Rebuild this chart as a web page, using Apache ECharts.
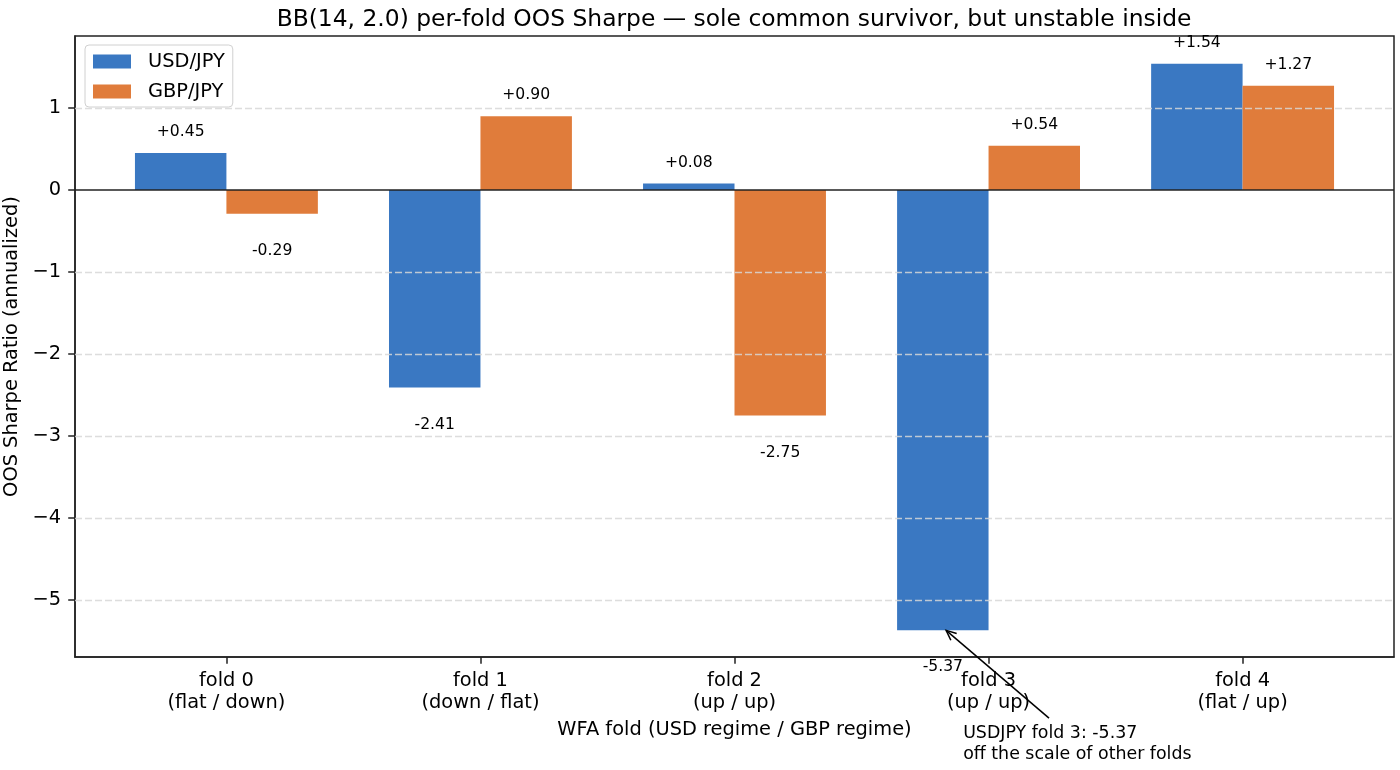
<!DOCTYPE html>
<html><head><meta charset="utf-8">
<script src="https://cdn.jsdelivr.net/npm/echarts@6/dist/echarts.min.js"></script>
<style>html,body{margin:0;padding:0;background:#fff}#c{width:1400px;height:770px}</style>
</head><body><div id="c"></div>
<script>
const categories = ['fold 0\n(flat / down)', 'fold 1\n(down / flat)', 'fold 2\n(up / up)', 'fold 3\n(up / up)', 'fold 4\n(flat / up)'];
const seriesNames = ['USD/JPY', 'GBP/JPY'];
const usdValues = [0.45, -2.41, 0.08, -5.37, 1.54];
const gbpValues = [-0.29, 0.90, -2.75, 0.54, 1.27];
const yTicks = [-5, -4, -3, -2, -1, 0, 1];
const xTicks = [0, 1, 2, 3, 4];
const xMin = -0.596, xMax = 4.596;
const yMin = -5.695, yMax = 1.878;
const titleText = 'BB(14, 2.0) per-fold OOS Sharpe \u2014 sole common survivor, but unstable inside';
const xName = 'WFA fold (USD regime / GBP regime)';
const yName = 'OOS Sharpe Ratio (annualized)';
const annotationLines = 'USDJPY fold 3: -5.37\noff the scale of other folds';
const annotationTip = [2.833, -5.37];
const annotationTail = [3.238, -6.44];
const annotationTextAt = [2.90, -6.50];

const FONT = 'DejaVu Sans';
const colors = ['#3a78c2', '#e07c3b'];

function items(vals) {
  return vals.map((v, i) => ({
    value: [xTicks[i], v],
    label: { position: v >= 0 ? 'top' : 'bottom', distance: v >= 0 ? 13 : 29 }
  }));
}
const fmtMinus = v => (v < 0 ? '\u2212' + Math.abs(v) : String(v));

const chart = echarts.init(document.getElementById('c'), null, { renderer: 'canvas' });
const barLabel = {
  show: true, fontFamily: FONT, fontSize: 15.6, color: '#000',
  formatter: p => (p.value[1] >= 0 ? '+' : '') + p.value[1].toFixed(2)
};
chart.setOption({
  animation: false,
  textStyle: { fontFamily: FONT },
  title: {
    text: titleText, left: 729, top: 3, textAlign: 'center',
    textStyle: { fontFamily: FONT, fontSize: 23.4, fontWeight: 'normal', color: '#000' }
  },
  grid: { left: 75, right: 6, top: 36, bottom: 113, containLabel: false, outerBoundsMode: 'none',
    show: true, borderColor: '#222', borderWidth: 1.5, backgroundColor: 'transparent' },
  legend: {
    data: seriesNames, orient: 'vertical', left: 85, top: 45,
    itemWidth: 38, itemHeight: 14, itemGap: 11, icon: 'rect',
    padding: [7, 8, 6, 8], backgroundColor: '#fff', borderColor: '#d0d0d0', borderWidth: 1, borderRadius: 4,
    textStyle: { fontFamily: FONT, fontSize: 19.4, color: '#000', padding: [0, 0, 0, 12] }
  },
  xAxis: {
    type: 'value', min: xMin, max: xMax, position: 'bottom',
    axisLine: { onZero: false, lineStyle: { color: '#222', width: 1.5 } },
    axisTick: { show: true, customValues: xTicks, length: 6.8, lineStyle: { color: '#222', width: 1.5 } },
    axisLabel: { customValues: xTicks, formatter: v => categories[Math.round(v)],
      fontFamily: FONT, fontSize: 19.4, color: '#000', lineHeight: 22, margin: 13 },
    splitLine: { show: false },
    name: xName, nameLocation: 'middle', nameGap: 63,
    nameTextStyle: { fontFamily: FONT, fontSize: 19.4, color: '#000' }
  },
  yAxis: {
    type: 'value', min: yMin, max: yMax, position: 'left',
    axisLine: { show: true, onZero: false, lineStyle: { color: '#222', width: 1.5 } },
    axisTick: { show: true, customValues: yTicks, length: 6.8, lineStyle: { color: '#222', width: 1.5 } },
    axisLabel: { customValues: yTicks, formatter: fmtMinus, fontFamily: FONT, fontSize: 19.4, color: '#000', margin: 14 },
    splitLine: { show: false },
    name: yName, nameLocation: 'middle', nameGap: 50,
    nameTextStyle: { fontFamily: FONT, fontSize: 19.4, color: '#000' }
  },
  series: [
    { name: seriesNames[0], type: 'bar', data: items(usdValues), itemStyle: { color: colors[0] },
      barGap: '0%', barCategoryGap: '28%', label: barLabel },
    { name: seriesNames[1], type: 'bar', data: items(gbpValues), itemStyle: { color: colors[1] },
      barGap: '0%', barCategoryGap: '28%', label: barLabel },
    { name: 'grid', type: 'line', data: [], z: 5, silent: true,
      markLine: { silent: true, symbol: 'none', label: { show: false },
        lineStyle: { color: 'rgba(215,215,215,0.85)', width: 1.3, type: [7, 3] },
        data: yTicks.filter(t => t !== 0).map(t => ({ yAxis: t })) } },
    { name: 'zero', type: 'line', data: [], z: 6, silent: true,
      markLine: { silent: true, symbol: 'none', label: { show: false },
        lineStyle: { color: '#222', width: 1.5, type: 'solid' },
        data: [{ yAxis: 0 }] } }
  ]
});

// annotation through the library's scales
const conv = p => chart.convertToPixel({ xAxisIndex: 0, yAxisIndex: 0 }, p);
const tip = conv(annotationTip), tail = conv(annotationTail), tpos = conv(annotationTextAt);
const ang = Math.atan2(tip[1] - tail[1], tip[0] - tail[0]);
const hl = 11, hw = 0.42;
const h1 = [tip[0] - hl * Math.cos(ang - hw), tip[1] - hl * Math.sin(ang - hw)];
const h2 = [tip[0] - hl * Math.cos(ang + hw), tip[1] - hl * Math.sin(ang + hw)];
chart.setOption({
  graphic: [
    { type: 'line', shape: { x1: tail[0], y1: tail[1], x2: tip[0], y2: tip[1] }, style: { stroke: '#000', lineWidth: 1.5 }, z: 100 },
    { type: 'polyline', shape: { points: [h1, tip, h2] }, style: { stroke: '#000', lineWidth: 1.5, fill: null }, z: 100 },
    { type: 'text', x: tpos[0], y: tpos[1], z: 100,
      style: { text: annotationLines, fontFamily: FONT, fontSize: 17.4, lineHeight: 21, fill: '#000', align: 'left', verticalAlign: 'top' } }
  ]
});
</script>
</body></html>
